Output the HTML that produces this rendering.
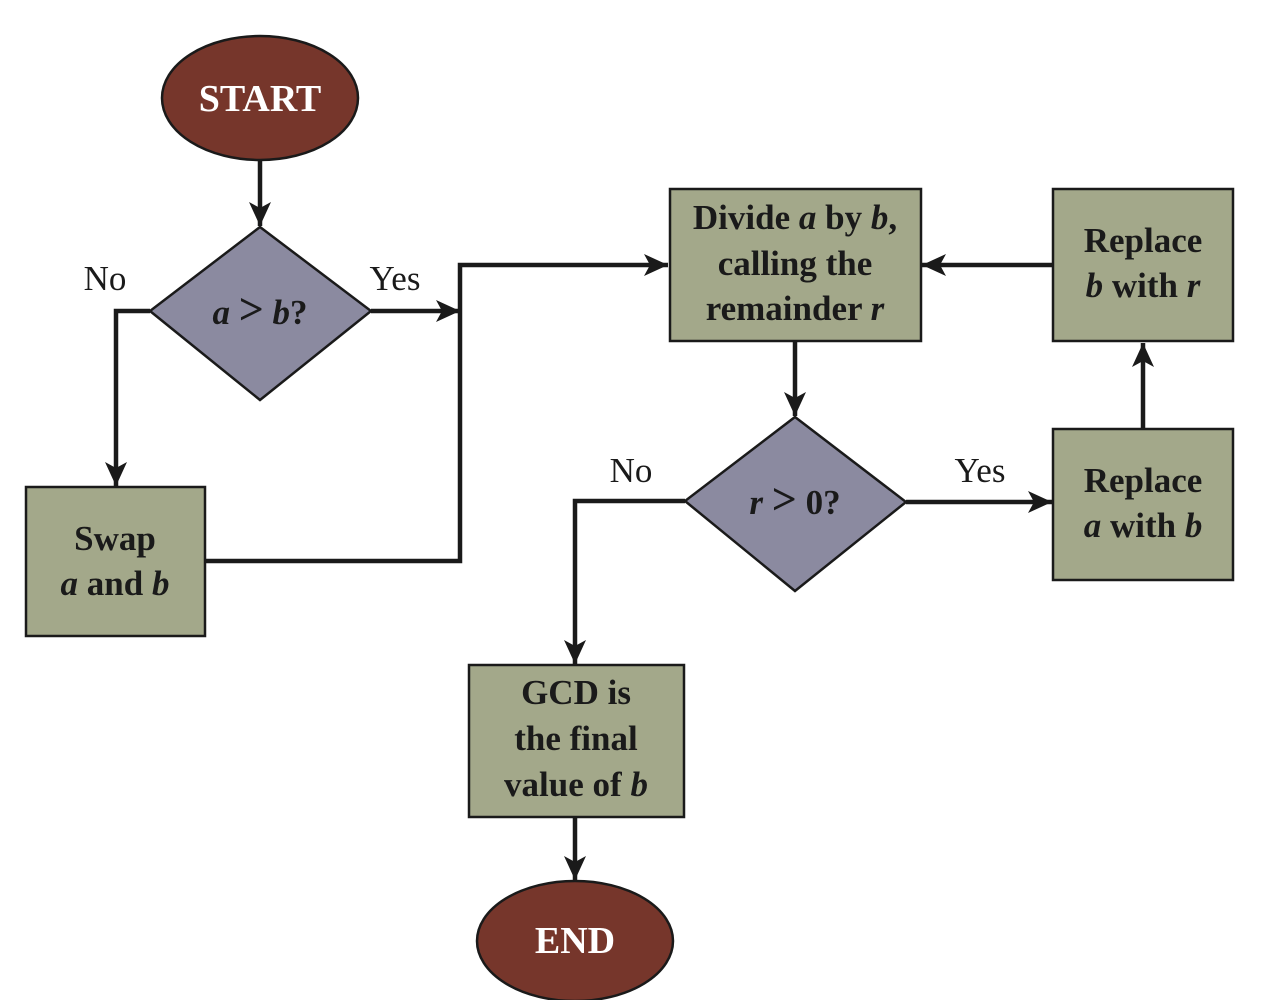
<!DOCTYPE html>
<html><head><meta charset="utf-8"><style>
html,body{margin:0;padding:0;background:#fff;}
svg{display:block;}
text{font-family:"Liberation Serif",serif;}
.b{font-weight:bold;font-size:35px;fill:#1a1a1a;}
.l{font-size:35px;fill:#1a1a1a;}
.w{font-weight:bold;font-size:38px;fill:#fff;}
</style></head><body>
<svg width="1261" height="1000" viewBox="0 0 1261 1000" xmlns="http://www.w3.org/2000/svg">
<defs>
<marker id="a" markerUnits="userSpaceOnUse" markerWidth="26" markerHeight="22" refX="24" refY="11" orient="auto">
<path d="M0,0 L24,11 L0,22 L6,11 Z" fill="#1a1a1a"/>
</marker>
</defs>
<g stroke="#1a1a1a" stroke-width="4.5" fill="none">
<line x1="260" y1="160" x2="260" y2="226" marker-end="url(#a)"/>
<polyline points="150,311 116,311 116,486" marker-end="url(#a)"/>
<line x1="371" y1="311" x2="460" y2="311" marker-end="url(#a)"/>
<polyline points="205,561 460,561 460,265 668,265" marker-end="url(#a)"/>
<line x1="795" y1="341" x2="795" y2="416" marker-end="url(#a)"/>
<polyline points="685,501 575,501 575,664" marker-end="url(#a)"/>
<line x1="906" y1="502" x2="1052" y2="502" marker-end="url(#a)"/>
<line x1="1143" y1="429" x2="1143" y2="343" marker-end="url(#a)"/>
<line x1="1053" y1="265" x2="922" y2="265" marker-end="url(#a)"/>
<line x1="575" y1="817" x2="575" y2="880" marker-end="url(#a)"/>
</g>
<g stroke="#1a1a1a" stroke-width="2.5">
<ellipse cx="260" cy="98" rx="98" ry="62" fill="#76362b"/>
<ellipse cx="575" cy="941" rx="98" ry="60" fill="#76362b"/>
<polygon points="260,227 371,311 260,400 150,311" fill="#8b8aa0"/>
<polygon points="795,417 906,502 795,591 685,501" fill="#8b8aa0"/>
<rect x="26" y="487" width="179" height="149" fill="#a3a88a"/>
<rect x="670" y="189" width="251" height="152" fill="#a3a88a"/>
<rect x="1053" y="189" width="180" height="152" fill="#a3a88a"/>
<rect x="1053" y="429" width="180" height="151" fill="#a3a88a"/>
<rect x="469" y="665" width="215" height="152" fill="#a3a88a"/>
</g>
<g text-anchor="middle">
<text class="w" x="260" y="111">START</text>
<text class="w" x="575" y="953">END</text>
<text class="b" x="260" y="324"><tspan font-style="italic">a</tspan> <tspan font-size="44">&gt;</tspan> <tspan font-style="italic">b</tspan>?</text>
<text class="b" x="795" y="514"><tspan font-style="italic">r</tspan> <tspan font-size="44">&gt;</tspan> 0?</text>
<text class="l" x="105" y="290">No</text>
<text class="l" x="395" y="290">Yes</text>
<text class="l" x="631" y="482">No</text>
<text class="l" x="980" y="482">Yes</text>
<text class="b" x="115" y="550">Swap</text>
<text class="b" x="115" y="595"><tspan font-style="italic">a</tspan> and <tspan font-style="italic">b</tspan></text>
<text class="b" x="795" y="229">Divide <tspan font-style="italic">a</tspan> by <tspan font-style="italic">b</tspan>,</text>
<text class="b" x="795" y="275">calling the</text>
<text class="b" x="795" y="320">remainder <tspan font-style="italic">r</tspan></text>
<text class="b" x="1143" y="252">Replace</text>
<text class="b" x="1143" y="297"><tspan font-style="italic">b</tspan> with <tspan font-style="italic">r</tspan></text>
<text class="b" x="1143" y="492">Replace</text>
<text class="b" x="1143" y="537"><tspan font-style="italic">a</tspan> with <tspan font-style="italic">b</tspan></text>
<text class="b" x="576" y="704">GCD is</text>
<text class="b" x="576" y="750">the final</text>
<text class="b" x="576" y="796">value of <tspan font-style="italic">b</tspan></text>
</g>
</svg>
</body></html>
